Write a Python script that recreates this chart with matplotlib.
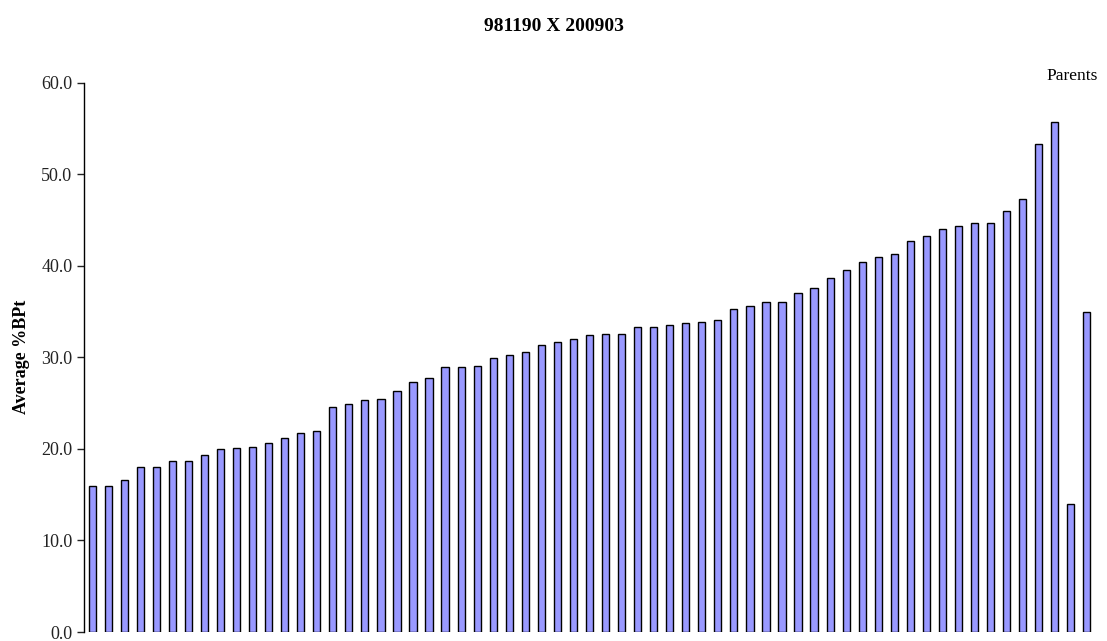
import matplotlib
matplotlib.use("Agg")
import matplotlib.pyplot as plt
import matplotlib.ticker as ticker

# average %BPt per line, sorted, followed by the two parents
progeny = [16.0, 16.0, 16.6, 18.0, 18.0, 18.7, 18.7, 19.3, 20.0, 20.1,
           20.2, 20.6, 21.2, 21.7, 22.0, 24.6, 24.9, 25.3, 25.4, 26.3,
           27.3, 27.7, 28.9, 29.0, 29.1, 29.9, 30.3, 30.6, 31.3, 31.7,
           32.0, 32.4, 32.5, 32.6, 33.3, 33.3, 33.5, 33.7, 33.9, 34.1,
           35.3, 35.6, 36.0, 36.0, 37.0, 37.6, 38.7, 39.5, 40.4, 41.0,
           41.3, 42.7, 43.3, 44.0, 44.4, 44.7, 44.7, 46.0, 47.3, 53.3,
           55.7]
parents = [14.0, 35.0]
values = progeny + parents
y_ticks = [0, 10, 20, 30, 40, 50, 60]

plt.rcParams['font.family'] = ['Liberation Serif', 'DejaVu Serif']

fig = plt.figure(figsize=(11.07, 6.41), dpi=100)
ax = fig.add_axes([0.076, 0.014, 0.913, 0.857])

x = list(range(len(values)))
ax.bar(x, values, width=0.45, color='#9999ff', edgecolor='black', linewidth=1.0)

ax.set_xlim(-0.5, len(values) - 0.5)
ax.set_ylim(0, 60)
ax.set_yticks(y_ticks)
ax.yaxis.set_major_formatter(ticker.FormatStrFormatter('%.1f'))
ax.tick_params(axis='y', labelsize=13, length=5, width=1, direction='out',
               colors='#222222')
ax.set_xticks([])

for side in ['top', 'right', 'bottom']:
    ax.spines[side].set_visible(False)
ax.spines['left'].set_linewidth(1)

ax.set_ylabel('Average %BPt', fontsize=13, fontweight='bold', labelpad=8)
fig.text(0.5, 0.958, '981190 X 200903', ha='center', va='center',
         fontsize=14, fontweight='bold')
fig.text(0.992, 0.882, 'Parents', ha='right', va='center', fontsize=12.5)

fig.savefig('out.png', dpi=100)
